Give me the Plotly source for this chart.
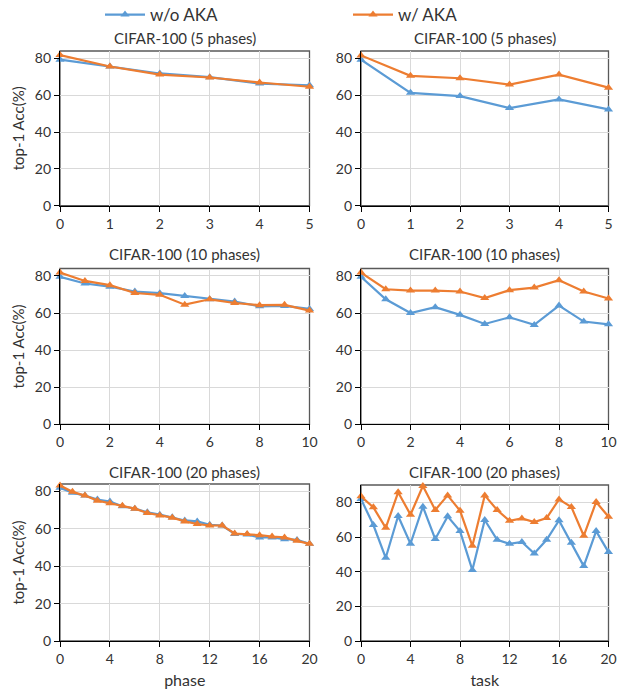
import plotly.graph_objects as go

# ---- data ----
x5 = [0, 1, 2, 3, 4, 5]
x10 = list(range(11))
x20 = list(range(21))

p5_wo = [79.3, 75.6, 71.8, 69.8, 66.3, 65.4]
p5_w = [81.8, 75.6, 71.2, 69.6, 66.9, 64.6]
t5_wo = [79.3, 61.3, 59.5, 53.0, 57.7, 52.3]
t5_w = [81.6, 70.5, 69.2, 65.8, 71.2, 64.1]

p10_wo = [79.5, 75.9, 74.2, 71.6, 70.7, 69.2, 67.4, 66.2, 63.6, 63.8, 62.2]
p10_w = [81.8, 77.3, 75.0, 70.8, 69.8, 64.5, 67.4, 65.4, 64.2, 64.4, 61.3]
t10_wo = [79.5, 67.4, 60.0, 63.1, 59.0, 54.1, 57.7, 53.6, 64.0, 55.4, 53.9]
t10_w = [81.8, 72.8, 72.1, 72.1, 71.6, 68.1, 72.3, 73.7, 77.7, 71.6, 67.8]

p20_wo = [82.0, 79.3, 77.8, 75.7, 74.6, 72.1, 70.8, 68.9, 67.6, 66.2, 64.5,
          64.0, 62.2, 61.8, 57.3, 57.0, 55.4, 55.4, 54.5, 54.1, 52.0]
p20_w = [83.2, 79.8, 77.8, 75.1, 73.7, 72.4, 70.8, 68.5, 67.2, 66.0, 64.0,
         62.6, 61.8, 61.8, 57.5, 57.2, 56.6, 55.9, 55.4, 53.6, 52.0]
t20_wo = [81.9, 66.9, 48.0, 72.1, 56.1, 77.5, 58.8, 71.9, 63.4, 40.9, 69.8,
          58.4, 56.1, 57.1, 50.5, 58.4, 69.6, 56.7, 43.2, 63.4, 51.3]
t20_w = [83.5, 77.1, 65.3, 85.8, 72.9, 89.4, 75.6, 84.0, 75.2, 54.9, 84.0,
         75.6, 69.4, 70.7, 68.6, 70.9, 81.7, 77.3, 60.7, 80.2, 71.7]

titles = ["CIFAR-100 (5 phases)", "CIFAR-100 (5 phases)",
          "CIFAR-100 (10 phases)", "CIFAR-100 (10 phases)",
          "CIFAR-100 (20 phases)", "CIFAR-100 (20 phases)"]
series_names = ["w/o AKA", "w/ AKA"]
colors = ["#5b9bd5", "#ed7d31"]

panels = [
    (x5, p5_wo, p5_w, 1, 84),
    (x5, t5_wo, t5_w, 1, 84),
    (x10, p10_wo, p10_w, 2, 84),
    (x10, t10_wo, t10_w, 2, 84),
    (x20, p20_wo, p20_w, 4, 84),
    (x20, t20_wo, t20_w, 4, 90),
]

W, H = 622, 689
col_px = [(60, 309.5), (361, 608.5)]
row_px = [(51, 205.7), (268.5, 424.3), (484, 641)]
title_y = [38, 254, 472]

FONT = "Lato, 'Open Sans', sans-serif"
TXT = "#333333"

fig = go.Figure()
annotations = []
shapes = []
for i, (xs, wo, w, dt, ymax) in enumerate(panels):
    r, c = divmod(i, 2)
    k = "" if i == 0 else str(i + 1)
    xa, ya = "x" + k, "y" + k
    x0, x1 = col_px[c]
    top, bot = row_px[r]
    if i == 5:
        top = 485
    for s, (vals, name, col) in enumerate(zip([wo, w], series_names, colors)):
        fig.add_trace(go.Scatter(
            x=xs, y=vals, mode="lines+markers", name=name,
            line=dict(color=col, width=2.2),
            marker=dict(symbol="triangle-up", size=8, color=col),
            xaxis=xa, yaxis=ya, cliponaxis=False,
            showlegend=(i == 0), legendgroup=name,
            legend="legend" if s == 0 else "legend2"))
    xkey = "xaxis" + k
    ykey = "yaxis" + k
    fig.layout[xkey] = dict(
        domain=[x0 / W, x1 / W], range=[0, xs[-1]], dtick=dt, tick0=0,
        anchor=ya, showgrid=True, gridcolor="#d9d9d9", gridwidth=1,
        showline=True, linecolor="black", linewidth=1.3,
        ticks="outside", ticklen=5, tickcolor="black",
        tickfont=dict(family=FONT, size=14, color=TXT), zeroline=False,
        fixedrange=True)
    fig.layout[ykey] = dict(
        domain=[1 - bot / H, 1 - top / H], range=[0, ymax], dtick=20, tick0=0,
        anchor=xa, showgrid=True, gridcolor="#d9d9d9", gridwidth=1,
        showline=True, linecolor="black", linewidth=1.3,
        ticks="outside", ticklen=5, tickcolor="black",
        tickfont=dict(family=FONT, size=14, color=TXT), zeroline=False,
        fixedrange=True)
    if c == 0:
        fig.layout[ykey].title = dict(text="top-1 Acc(%)",
                                      font=dict(family=FONT, size=15, color=TXT),
                                      standoff=6)
    if r == 2:
        fig.layout[xkey].title = dict(text="phase" if c == 0 else "task",
                                      font=dict(family=FONT, size=16, color=TXT),
                                      standoff=10)
    shapes.append(dict(type="rect", xref=xa + " domain", yref=ya + " domain",
                       x0=0, x1=1, y0=0, y1=1, line=dict(color="#595959", width=1.3),
                       layer="below"))
    annotations.append(dict(text=titles[i], x=(x0 + x1) / 2 / W, y=1 - title_y[r] / H,
                            xref="paper", yref="paper", showarrow=False,
                            xanchor="center", yanchor="middle",
                            font=dict(family=FONT, size=15, color=TXT)))

leg_common = dict(orientation="h", yanchor="middle", xanchor="left",
                  font=dict(family=FONT, size=17, color=TXT),
                  itemwidth=40, bgcolor="rgba(0,0,0,0)")
fig.update_layout(
    width=W, height=H, margin=dict(l=0, r=0, t=0, b=0, autoexpand=False),
    paper_bgcolor="white", plot_bgcolor="white",
    annotations=annotations, shapes=shapes,
    legend=dict(x=100 / W, y=1 - 15 / H, **leg_common),
    legend2=dict(x=348 / W, y=1 - 15 / H, **leg_common),
)

fig.write_html("out.html")
